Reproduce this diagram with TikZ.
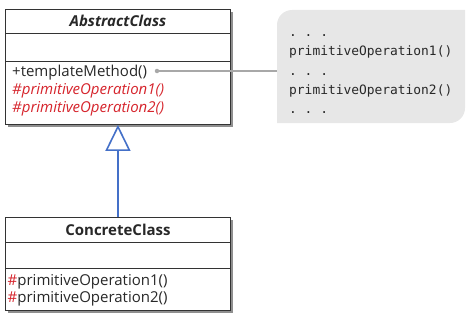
\documentclass[tikz,border=0pt]{standalone}
\usepackage{fontspec}
\setmainfont{Open Sans}
\setmonofont{DejaVu Sans Mono}
\usetikzlibrary{arrows.meta,shadows}
\definecolor{txt}{RGB}{40,40,40}
\definecolor{umlred}{RGB}{214,36,44}
\definecolor{umlblue}{RGB}{68,112,200}
\definecolor{linkgray}{RGB}{168,168,168}
\definecolor{notefill}{RGB}{231,231,231}
\definecolor{notetxt}{RGB}{40,40,40}
\tikzset{
  classbox/.style={draw=black!80, line width=0.9pt, fill=white,
    drop shadow={shadow xshift=2.5pt,shadow yshift=-2.5pt,fill=black!55,opacity=0.8},
    inner sep=0pt, anchor=north west},
  sepline/.style={draw=black!80, line width=0.8pt},
  classtitle/.style={font=\fontsize{15}{18}\selectfont\bfseries, text=txt, anchor=base, inner sep=0pt},
  member/.style={font=\fontsize{15}{18}\selectfont, text=txt, anchor=base west, inner sep=0pt},
  abstractop/.style={font=\fontsize{15}{18}\selectfont\itshape, text=umlred, anchor=base west, inner sep=0pt},
  codeline/.style={font=\fontsize{12.9}{15}\selectfont\ttfamily, text=notetxt, anchor=base west, inner sep=0pt},
  inherit/.style={draw=umlblue, line width=1.8pt, -{Triangle[open, length=26pt, width=25pt, line width=1.6pt]}},
  notelink/.style={draw=linkgray, line width=1.1pt}
}
\begin{document}
\begin{tikzpicture}[x=1pt,y=1pt]
\useasboundingbox (0,0) rectangle (473,-321);

% note background
\node[inner sep=0pt, minimum width=188pt, minimum height=113pt, anchor=north west] (note) at (277,-10) {};
\fill[notefill] (277,-123) -- (277,-25) arc[start angle=180,end angle=90,radius=15pt]
  -- (465,-10) -- (465,-108) arc[start angle=0,end angle=-90,radius=15pt] -- cycle;
\node[codeline] (c1) at (289,-37) {. . .};
\node[codeline] (c2) at (289,-56) {primitiveOperation1()};
\node[codeline] (c3) at (289,-75) {. . .};
\node[codeline] (c4) at (289,-94) {primitiveOperation2()};
\node[codeline] (c5) at (289,-113) {. . .};

% abstract class
\node[classbox, minimum width=225pt, minimum height=115pt] (abs) at (5,-9) {};
\draw[sepline] ([yshift=-24pt]abs.north west) -- ([yshift=-24pt]abs.north east);
\draw[sepline] ([yshift=-52pt]abs.north west) -- ([yshift=-52pt]abs.north east);
\node[classtitle, font=\fontsize{15}{18}\selectfont\bfseries\itshape] (absname) at ([yshift=-18pt]abs.north) {AbstractClass};
\node[member] (tm) at ([xshift=7pt,yshift=-67pt]abs.north west) {+templateMethod()};
\node[abstractop] (apo1) at ([xshift=7pt,yshift=-85pt]abs.north west) {\#primitiveOperation1()};
\node[abstractop] (apo2) at ([xshift=7pt,yshift=-103pt]abs.north west) {\#primitiveOperation2()};

% concrete class
\node[classbox, minimum width=225pt, minimum height=93pt] (con) at (5,-217) {};
\draw[sepline] ([yshift=-25pt]con.north west) -- ([yshift=-25pt]con.north east);
\draw[sepline] ([yshift=-51pt]con.north west) -- ([yshift=-51pt]con.north east);
\node[classtitle] (conname) at ([yshift=-18pt]con.north) {ConcreteClass};
\node[member] (cpo1) at ([xshift=2.5pt,yshift=-68pt]con.north west) {{\color{umlred}\#}primitiveOperation1()};
\node[member] (cpo2) at ([xshift=2.5pt,yshift=-85pt]con.north west) {{\color{umlred}\#}primitiveOperation2()};

% connectors
\node[circle, fill=linkgray, inner sep=0pt, minimum size=4.5pt] (dot) at (157,-71) {};
\draw[notelink] (dot) -- (dot -| note.west);
\draw[inherit] (con.north) -- (abs.south);
\end{tikzpicture}
\end{document}
